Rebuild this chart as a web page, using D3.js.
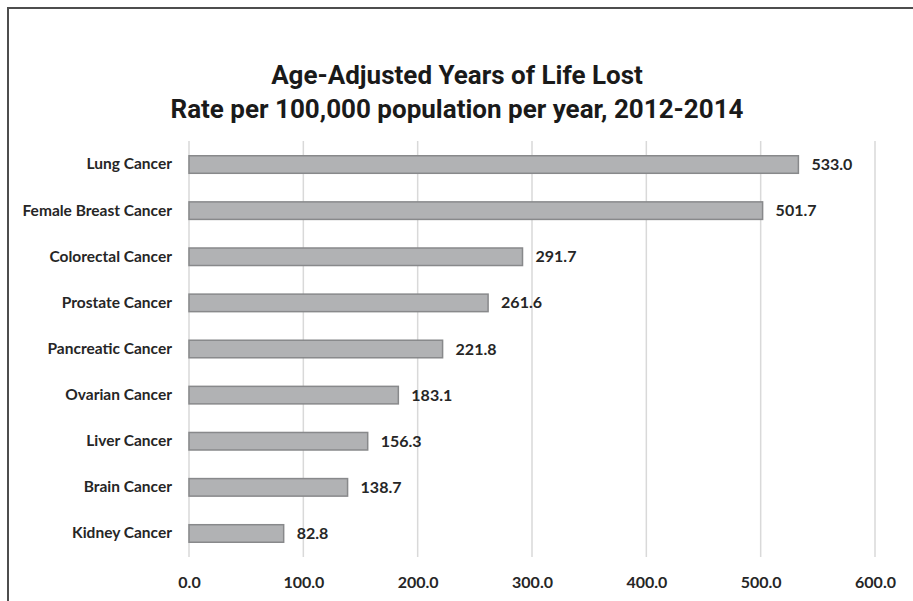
<!DOCTYPE html>
<html>
<head>
<meta charset="utf-8">
<script src="https://cdn.jsdelivr.net/npm/d3@7"></script>
<style>
  html, body { margin: 0; padding: 0; background: #ffffff; }
  svg { display: block; }
</style>
</head>
<body>
<svg id="chart" width="913" height="601"></svg>
<script>
// Cancer sites, ordered top to bottom
const categories = [
  "Lung Cancer",
  "Female Breast Cancer",
  "Colorectal Cancer",
  "Prostate Cancer",
  "Pancreatic Cancer",
  "Ovarian Cancer",
  "Liver Cancer",
  "Brain Cancer",
  "Kidney Cancer"
];

// Age-adjusted years of life lost, rate per 100,000 per year
const rates = [533.0, 501.7, 291.7, 261.6, 221.8, 183.1, 156.3, 138.7, 82.8];

// Value-axis ticks
const tickValues = [0, 100, 200, 300, 400, 500, 600];

const titleLines = [
  "Age-Adjusted Years of Life Lost",
  "Rate per 100,000 population per year, 2012-2014"
];

const data = categories.map((c, i) => ({ name: c, value: rates[i] }));

const svg = d3.select("#chart");
const W = 913, H = 601;

const plot = { left: 189, right: 875, top: 141, bottom: 557 };

const textColor = "#262626";
const labelFont = "Lato, 'Open Sans', sans-serif";

// outer frame
svg.append("rect")
  .attr("x", 8).attr("y", 8)
  .attr("width", W + 20).attr("height", H + 20)
  .attr("fill", "none")
  .attr("stroke", "#4d4d4d")
  .attr("stroke-width", 2);

// title
svg.append("g")
  .selectAll("text")
  .data(titleLines)
  .join("text")
  .attr("x", 457)
  .attr("y", (d, i) => 84 + i * 34)
  .attr("text-anchor", "middle")
  .attr("font-family", "Roboto, 'Liberation Sans', sans-serif")
  .attr("font-weight", "bold")
  .attr("font-size", 26)
  .attr("fill", "#1a1a1a")
  .text(d => d);

const x = d3.scaleLinear()
  .domain([0, 600])
  .range([plot.left, plot.right]);

const y = d3.scaleBand()
  .domain(categories)
  .range([plot.top, plot.bottom])
  .paddingInner(0.62)
  .paddingOuter(0.32);

// vertical gridlines
svg.append("g")
  .selectAll("line")
  .data(tickValues)
  .join("line")
  .attr("x1", d => x(d)).attr("x2", d => x(d))
  .attr("y1", plot.top).attr("y2", plot.bottom)
  .attr("stroke", "#d9d9d9")
  .attr("stroke-width", 1.5);

// x axis labels
const xAxis = d3.axisBottom(x)
  .tickValues(tickValues)
  .tickSize(0)
  .tickPadding(0)
  .tickFormat(d3.format(".1f"));

const xg = svg.append("g")
  .attr("transform", `translate(0,${plot.bottom + 20})`)
  .call(xAxis);
xg.select(".domain").remove();
xg.selectAll("text")
  .attr("font-family", labelFont)
  .attr("font-weight", "bold")
  .attr("font-size", 16)
  .attr("fill", textColor);

// category axis labels
const yAxis = d3.axisLeft(y).tickSize(0).tickPadding(0);
const yg = svg.append("g")
  .attr("transform", `translate(${plot.left - 17},0)`)
  .call(yAxis);
yg.select(".domain").remove();
yg.selectAll("text")
  .attr("font-family", labelFont)
  .attr("font-weight", "bold")
  .attr("font-size", 15.5)
  .attr("fill", textColor);

// bars
svg.append("g")
  .selectAll("rect")
  .data(data)
  .join("rect")
  .attr("x", x(0))
  .attr("y", d => y(d.name))
  .attr("width", d => x(d.value) - x(0))
  .attr("height", y.bandwidth())
  .attr("fill", "#b1b2b4")
  .attr("stroke", "#88898b")
  .attr("stroke-width", 1.5);

// value labels
svg.append("g")
  .selectAll("text")
  .data(data)
  .join("text")
  .attr("x", d => x(d.value) + 13)
  .attr("y", d => y(d.name) + y.bandwidth() / 2)
  .attr("dy", "0.35em")
  .attr("font-family", labelFont)
  .attr("font-weight", "bold")
  .attr("font-size", 16)
  .attr("fill", textColor)
  .text(d => d3.format(".1f")(d.value));
</script>
</body>
</html>
